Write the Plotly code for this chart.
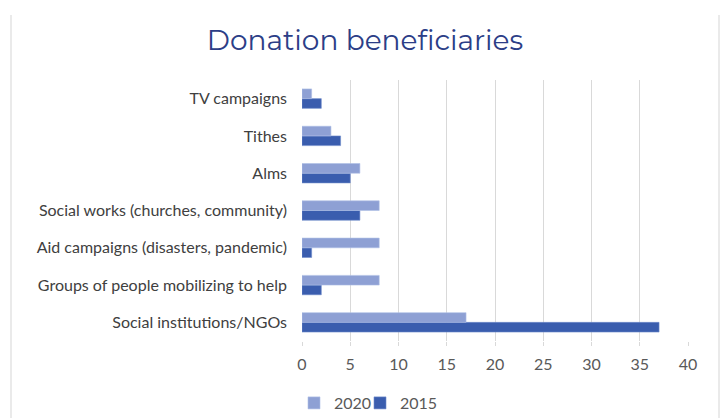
import plotly.graph_objects as go

# Categories listed bottom-to-top along the y axis
categories = [
    "Social institutions/NGOs",
    "Groups of people mobilizing to help",
    "Aid campaigns (disasters, pandemic)",
    "Social works (churches, community)",
    "Alms",
    "Tithes",
    "TV campaigns",
]
values_2020 = [17, 8, 8, 8, 6, 3, 1]
values_2015 = [37, 2, 1, 6, 5, 4, 2]
x_ticks = [0, 5, 10, 15, 20, 25, 30, 35, 40]

COLOR_2020 = "#8EA0D4"
COLOR_2015 = "#3A5DAE"
FONT = "Lato, 'Open Sans', sans-serif"

PLOT_L, PLOT_R, PLOT_T, PLOT_B = 302, 688, 80, 341
PW, PH = PLOT_R - PLOT_L, PLOT_B - PLOT_T


def px_x(x):
    return (x - PLOT_L) / PW


def px_y(y):
    return (PLOT_B - y) / PH


fig = go.Figure()
# 2015 drawn first so it sits below 2020 within each group
fig.add_trace(go.Bar(
    y=categories, x=values_2015, name="2015", orientation="h",
    marker=dict(color=COLOR_2015, line=dict(color="#6F8CCB", width=0.6)),
    legend="legend2",
))
fig.add_trace(go.Bar(
    y=categories, x=values_2020, name="2020", orientation="h",
    marker=dict(color=COLOR_2020, line=dict(color="#AFBFE6", width=0.6)),
    legend="legend",
))

legend_style = dict(
    orientation="h", xanchor="left", yanchor="middle", y=px_y(403),
    font=dict(size=16, color="#595959"), itemwidth=30,
    bgcolor="rgba(0,0,0,0)",
)

fig.update_layout(
    width=721, height=418,
    margin=dict(l=PLOT_L, r=721 - PLOT_R, t=PLOT_T, b=418 - PLOT_B, autoexpand=False),
    paper_bgcolor="white", plot_bgcolor="white",
    barmode="group", bargap=0.48, bargroupgap=0,
    title=dict(
        text="Donation beneficiaries",
        x=365 / 721, xanchor="center", xref="container",
        y=1 - 40 / 418, yanchor="middle", yref="container",
        font=dict(family="Montserrat, 'Open Sans', sans-serif", size=28, color="#2C3E87"),
    ),
    font=dict(family=FONT, size=16, color="#404040"),
    xaxis=dict(
        range=[0, 40], tickvals=x_ticks, showgrid=True, gridcolor="#D9D9D9",
        gridwidth=1, zeroline=False, showline=False,
        tickfont=dict(size=16, color="#595959"),
        ticks="outside", ticklen=4, tickcolor="#D9D9D9", tickwidth=1,
        ticklabelstandoff=5,
    ),
    yaxis=dict(
        categoryorder="array", categoryarray=categories, showgrid=False,
        showline=False, ticks="", ticklabelstandoff=14,
        tickfont=dict(size=16, color="#404040"),
    ),
    legend=dict(legend_style, x=px_x(294)),
    legend2=dict(legend_style, x=px_x(360)),
    showlegend=True,
    shapes=[
        dict(type="line", xref="paper", yref="paper", x0=px_x(11), x1=px_x(11),
             y0=px_y(15), y1=px_y(420), line=dict(color="#E3E3E3", width=1.5)),
        dict(type="line", xref="paper", yref="paper", x0=px_x(719), x1=px_x(719),
             y0=px_y(15), y1=px_y(420), line=dict(color="#E3E3E3", width=1.5)),
    ],
)

fig.write_html("out.html")
